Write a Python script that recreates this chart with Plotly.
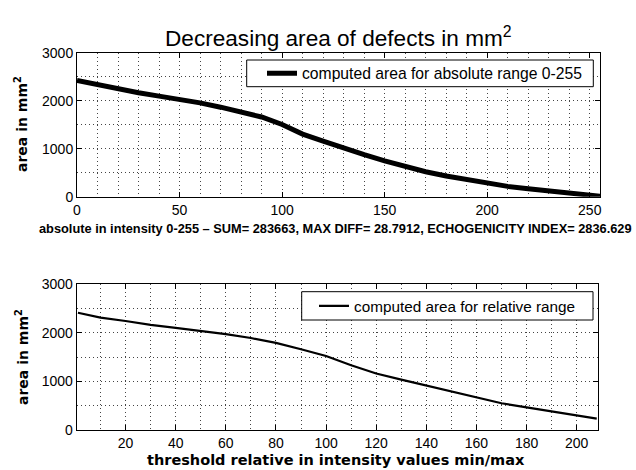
import plotly.graph_objects as go

W, H = 636, 470

# ---- data ----
abs_x = [0, 10, 20, 30, 40, 50, 60, 70, 80, 90, 100, 110, 120, 130, 140, 150,
         160, 170, 180, 190, 200, 210, 220, 230, 240, 250, 255]
abs_area = [2420, 2330, 2240, 2165, 2095, 2030, 1955, 1865, 1770, 1660, 1505, 1305,
            1160, 1005, 875, 745, 620, 520, 430, 350, 275, 215, 165, 120, 75, 35, 10]

rel_x = [1, 10, 20, 30, 40, 50, 60, 70, 80, 90, 100, 110, 120, 130, 140, 150,
         160, 170, 180, 190, 200, 208]
rel_area = [2410, 2310, 2240, 2160, 2100, 2040, 1970, 1890, 1790, 1660, 1520, 1330,
            1160, 1035, 910, 795, 665, 550, 465, 385, 300, 235]

top_ticks_x = [0, 50, 100, 150, 200, 250]
bot_ticks_x = [20, 40, 60, 80, 100, 120, 140, 160, 180, 200]
y_ticks = [0, 1000, 2000, 3000]

title_text = "Decreasing area of defects in mm<sup>2</sup>"
ytitle = "area in mm<sup>2</sup>"
top_xtitle = ("absolute in intensity 0-255 \u2013 SUM= 283663, MAX DIFF= 28.7912, "
              "ECHOGENICITY INDEX= 2836.629")
bot_xtitle = "threshold relative in intensity values min/max"
legend1_name = "computed area for absolute range 0-255"
legend2_name = "computed area for relative range"


def px(x):
    return x / W


def py(y):
    return 1 - y / H


fig = go.Figure()
fig.add_trace(go.Scatter(x=abs_x, y=abs_area, mode="lines", name=legend1_name,
                         line=dict(color="black", width=5),
                         xaxis="x", yaxis="y", legend="legend"))
fig.add_trace(go.Scatter(x=rel_x, y=rel_area, mode="lines", name=legend2_name,
                         line=dict(color="black", width=2.2),
                         xaxis="x2", yaxis="y2", legend="legend2"))

GRID = "#444"
DASH = "1px,3px"
SANS = "Liberation Sans, Arial, sans-serif"
tickfont = dict(family=SANS, size=14, color="black")

common_axis = dict(showline=True, linecolor="black", linewidth=1, mirror="ticks",
                   ticks="inside", ticklen=5, tickcolor="black", tickwidth=1,
                   showgrid=True, gridcolor=GRID, griddash=DASH, gridwidth=1,
                   zeroline=False, tickfont=tickfont, automargin=False)

legend_common = dict(xanchor="left", yanchor="middle",
                     bgcolor="rgba(0,0,0,0)", borderwidth=0,
                     tracegroupgap=0)

fig.update_layout(
    width=W, height=H,
    margin=dict(l=0, r=0, t=0, b=0),
    paper_bgcolor="white", plot_bgcolor="white",
    xaxis=dict(domain=[px(77), px(600)], range=[0, 255], anchor="y",
               tickvals=top_ticks_x,
               minor=dict(dtick=10, tick0=0, showgrid=True, gridcolor=GRID,
                          griddash=DASH, ticks=""),
               **common_axis),
    yaxis=dict(domain=[py(196.7), py(52.7)], range=[0, 3000], anchor="x",
               tickvals=y_ticks,
               minor=dict(dtick=500, tick0=0, showgrid=True, gridcolor=GRID,
                          griddash=DASH, ticks=""),
               **common_axis),
    xaxis2=dict(domain=[px(76.7), px(598)], range=[0.5, 208.5], anchor="y2",
                tickvals=bot_ticks_x,
                minor=dict(dtick=10, tick0=0, showgrid=True, gridcolor=GRID,
                           griddash=DASH, ticks=""),
                **common_axis),
    yaxis2=dict(domain=[py(430), py(284)], range=[0, 3000], anchor="x2",
                tickvals=y_ticks,
                minor=dict(dtick=500, tick0=0, showgrid=True, gridcolor=GRID,
                           griddash=DASH, ticks=""),
                **common_axis),
    legend=dict(x=px(262), y=py(73.5),
                font=dict(family=SANS, size=15.7, color="black"),
                **legend_common),
    legend2=dict(x=px(314), y=py(306),
                 font=dict(family=SANS, size=15.3, color="black"),
                 **legend_common),
    showlegend=True,
    shapes=[
        dict(type="rect", xref="paper", yref="paper",
             x0=px(246.7), x1=px(593.3), y0=py(86.7), y1=py(60),
             fillcolor="white", line=dict(color="black", width=1), layer="above"),
        dict(type="rect", xref="paper", yref="paper",
             x0=px(301.7), x1=px(593), y0=py(320), y1=py(291.7),
             fillcolor="white", line=dict(color="black", width=1), layer="above"),
    ],
)

annots = [
    dict(text=title_text, x=px(338), y=py(37),
         font=dict(family=SANS, size=22.6, color="black")),
    dict(text="<b>" + ytitle + "</b>", x=px(21), y=py(124), textangle=-90,
         font=dict(family="DejaVu Sans, sans-serif", size=14, color="black")),
    dict(text="<b>" + ytitle + "</b>", x=px(22), y=py(357), textangle=-90,
         font=dict(family="DejaVu Sans, sans-serif", size=14, color="black")),
    dict(text="<b>" + top_xtitle + "</b>", x=px(335), y=py(228),
         font=dict(family=SANS, size=12.8, color="black")),
    dict(text="<b>" + bot_xtitle + "</b>", x=px(336), y=py(460),
         font=dict(family="DejaVu Sans, sans-serif", size=14.5, color="black")),
]
for a in annots:
    a.update(xref="paper", yref="paper", showarrow=False,
             xanchor="center", yanchor="middle")
fig.update_layout(annotations=annots)

fig.write_html("out.html",
               config={"displayModeBar": False},
               post_script="document.body.style.margin='0px';")
